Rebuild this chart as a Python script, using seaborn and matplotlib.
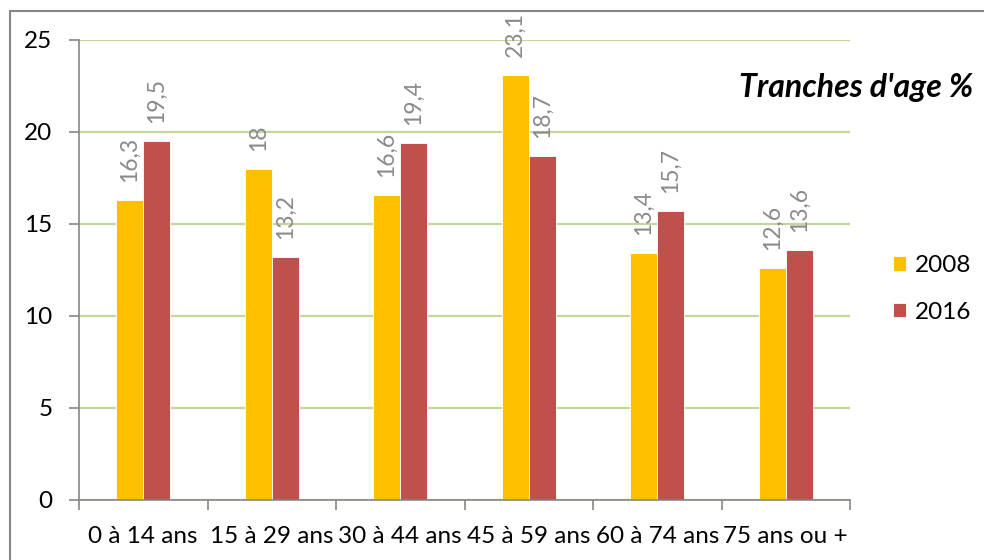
import matplotlib.pyplot as plt
import seaborn as sns
import pandas as pd
from matplotlib.lines import Line2D

# Données
categories = ["0 à 14 ans", "15 à 29 ans", "30 à 44 ans", "45 à 59 ans", "60 à 74 ans", "75 ans ou +"]
years = ["2008", "2016"]
values_2008 = [16.3, 18, 16.6, 23.1, 13.4, 12.6]
values_2016 = [19.5, 13.2, 19.4, 18.7, 15.7, 13.6]
y_ticks = [0, 5, 10, 15, 20, 25]

df = pd.DataFrame({
    "tranche": categories * 2,
    "annee": [years[0]] * len(categories) + [years[1]] * len(categories),
    "pct": values_2008 + values_2016,
})

sns.set_style("white")
plt.rcParams["font.family"] = ["Lato", "DejaVu Sans"]
plt.rcParams["text.color"] = "black"
plt.rcParams["xtick.labelcolor"] = "black"
plt.rcParams["ytick.labelcolor"] = "black"

axis_grey = "#868686"

fig = plt.figure(figsize=(9.84, 5.6), dpi=100)
ax = fig.add_axes([79 / 984, 1 - 500 / 560, (850 - 79) / 984, 460 / 560])

sns.barplot(df, x="tranche", y="pct", hue="annee", palette=["#FFC000", "#C0504D"],
            saturation=1, width=0.42, edgecolor="white", linewidth=0.6, ax=ax)

# étiquettes de valeurs
for cont in ax.containers:
    labels = [f"{v:g}".replace(".", ",") for v in cont.datavalues]
    ax.bar_label(cont, labels=labels, rotation=90, padding=13, color="#8a8a8a", fontsize=16.5)

ax.set_ylim(0, 25)
ax.set_xlim(-0.5, len(categories) - 0.5)
ax.set_yticks(y_ticks)
ax.set_axisbelow(True)
ax.yaxis.grid(True, color="#C3D69B", lw=1.6)

ax.tick_params(axis="y", direction="out", length=7, width=1.2, color=axis_grey,
               labelsize=17.5, pad=12, left=True)
ax.set_xticks(range(len(categories)), categories)
ax.set_xticks([i - 0.5 for i in range(len(categories) + 1)], minor=True)
ax.tick_params(axis="x", which="major", length=0, pad=19, labelsize=17.5)
ax.tick_params(axis="x", which="minor", direction="out", length=7, width=1.2,
               color=axis_grey, bottom=True)
ax.set_xlabel("")
ax.set_ylabel("")

sns.despine(ax=ax)
for s in ["left", "bottom"]:
    ax.spines[s].set_color(axis_grey)
    ax.spines[s].set_linewidth(1.2)

# légende à droite
handles, labs = ax.get_legend_handles_labels()
ax.legend(handles, labs, loc="center left", bbox_to_anchor=(893 / 984, 1 - 289 / 560),
          bbox_transform=fig.transFigure, frameon=False, fontsize=17.5,
          handlelength=0.55, handleheight=0.55, handletextpad=0.35,
          labelspacing=1.05, borderpad=0, borderaxespad=0)

fig.text(973 / 984, 1 - 88 / 560, "Tranches d'age %", ha="right", va="center",
         fontsize=23, fontweight="bold", fontstyle="italic", color="black")

# bordure du cadre
fig.add_artist(Line2D([10 / 984, 1], [1 - 11 / 560] * 2, color=axis_grey, lw=1.5))
fig.add_artist(Line2D([10 / 984] * 2, [0, 1 - 11 / 560], color=axis_grey, lw=1.5))

fig.savefig("out.png", dpi=100)
